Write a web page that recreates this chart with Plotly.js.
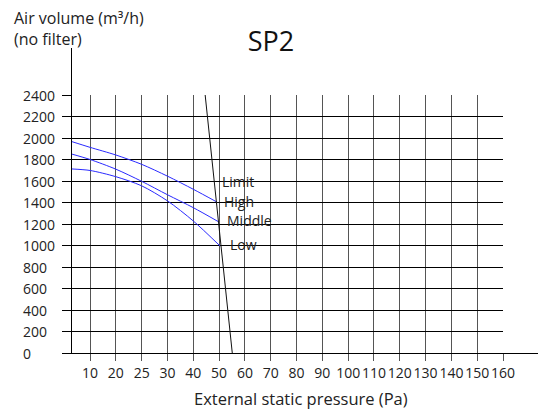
<!DOCTYPE html>
<html>
<head>
<meta charset="utf-8">
<script src="https://cdn.plot.ly/plotly-3.0.1.min.js"></script>
<style>html,body{margin:0;padding:0;background:#fff;}#chart{width:538px;height:414px;}</style>
</head>
<body>
<div id="chart"></div>
<script>
// Pressure tick labels (evenly spaced on the chart, positions 1..17)
const xTickLabels = ['10','20','25','30','40','50','60','70','80','90','100','110','120','130','140','150','160'];
const yTickVals = [0,200,400,600,800,1000,1200,1400,1600,1800,2000,2200,2400];
const yTickLabels = ['0','200','400','600','800','1000','1200','1400','1600','1800','2000','2200','2400'];

// Curves: x in tick-position units, y = air volume (m³/h)
const highX = [0.30, 1.00, 2.00, 3.00, 4.00, 5.00, 5.91];
const highY = [1966, 1913, 1842, 1755, 1645, 1523, 1405];
const middleX = [0.30, 1.00, 2.00, 3.00, 4.00, 5.00, 5.97];
const middleY = [1850, 1800, 1710, 1597, 1472, 1352, 1222];
const lowX = [0.30, 1.00, 2.00, 3.00, 4.00, 5.00, 6.04];
const lowY = [1712, 1698, 1640, 1555, 1415, 1228, 995];
const limitX = [5.46, 6.51];
const limitY = [2400, 0];

// Curve labels
const labelNames = ['Limit', 'High', 'Middle', 'Low'];
const labelX = [6.04, 6.11, 6.23, 6.35];
const labelY = [1591, 1414, 1237, 1005];

const FONT = 'Open Sans, Noto Sans, DejaVu Sans, sans-serif';
const BLUE = '#2a2aff';

const xTickVals = xTickLabels.map((_, i) => i + 1);

const traces = [
  {x: highX, y: highY, mode: 'lines', line: {color: BLUE, width: 1, shape: 'spline', smoothing: 0.8}, hoverinfo: 'skip', name: 'High'},
  {x: middleX, y: middleY, mode: 'lines', line: {color: BLUE, width: 1, shape: 'spline', smoothing: 0.8}, hoverinfo: 'skip', name: 'Middle'},
  {x: lowX, y: lowY, mode: 'lines', line: {color: BLUE, width: 1, shape: 'spline', smoothing: 0.8}, hoverinfo: 'skip', name: 'Low'},
  {x: limitX, y: limitY, mode: 'lines', line: {color: '#111', width: 1}, hoverinfo: 'skip', name: 'Limit'},
  {x: [], y: [], xaxis: 'x2', yaxis: 'y2', mode: 'lines', hoverinfo: 'skip', showlegend: false}
];

const annotations = [];
yTickVals.forEach((v, i) => {
  annotations.push({xref: 'paper', yref: 'y', x: (21 - 72) / 466, y: v, xanchor: 'left', yanchor: 'middle',
    text: yTickLabels[i], showarrow: false, font: {family: FONT, size: 14, color: '#222'}});
});
labelNames.forEach((t, i) => {
  annotations.push({xref: 'x', yref: 'y', x: labelX[i], y: labelY[i], xanchor: 'left', yanchor: 'middle',
    text: t, showarrow: false, font: {family: FONT, size: 14, color: '#222'}});
});
// y-axis title (top-left)
annotations.push({xref: 'paper', yref: 'paper', x: (12 - 72) / 466, y: (353 - 5) / 305, xanchor: 'left', yanchor: 'top', align: 'left',
  text: 'Air volume (m³/h)<br>(no filter)', showarrow: false, font: {family: FONT, size: 16, color: '#222'}});
// x-axis title
annotations.push({xref: 'paper', yref: 'paper', x: (301 - 72) / 466, y: (353 - 398) / 305, xanchor: 'center', yanchor: 'middle',
  text: 'External static pressure (Pa)', showarrow: false, font: {family: FONT, size: 16.5, color: '#222'}});
// cut-off repeated label at the very bottom
annotations.push({xref: 'paper', yref: 'paper', x: (18 - 72) / 466, y: (353 - 409) / 305, xanchor: 'left', yanchor: 'top',
  text: 'Air volume (m³/h)', showarrow: false, font: {family: FONT, size: 16, color: '#222'}});

const layout = {
  width: 538, height: 414,
  margin: {l: 72, r: 0, t: 48, b: 61, pad: 0},
  paper_bgcolor: '#fff', plot_bgcolor: 'rgba(0,0,0,0)',
  showlegend: false,
  font: {family: FONT, size: 14, color: '#222'},
  title: {text: 'SP2', font: {family: FONT, size: 27, color: '#111'}, x: 271 / 538, xanchor: 'center', xref: 'container', y: 1 - 42 / 414, yanchor: 'middle', yref: 'container'},
  xaxis: {
    domain: [0, 431 / 466], range: [0.3, 17], tickmode: 'array', tickvals: xTickVals, ticktext: xTickLabels,
    tickangle: 0, showgrid: true, gridcolor: '#555', gridwidth: 1, zeroline: false, showline: false,
    ticks: 'outside', ticklen: 7, tickcolor: '#555', tickwidth: 1,
    tickfont: {family: FONT, size: 14, color: '#222'}, anchor: 'y', fixedrange: true
  },
  yaxis: {
    domain: [0, 258 / 305], range: [0, 2400], tickmode: 'array', tickvals: yTickVals,
    showticklabels: false, showgrid: true, gridcolor: '#000', gridwidth: 1, zeroline: false, showline: false,
    ticks: 'outside', ticklen: 9, tickcolor: '#000', tickwidth: 1, anchor: 'x', fixedrange: true
  },
  xaxis2: {domain: [0, 1], range: [0, 1], anchor: 'y2', showline: true, linecolor: '#000', linewidth: 1,
    showgrid: false, zeroline: false, showticklabels: false, ticks: '', fixedrange: true},
  yaxis2: {domain: [0, 1], range: [0, 1], anchor: 'x2', showline: true, linecolor: '#000', linewidth: 1,
    showgrid: false, zeroline: false, showticklabels: false, ticks: '', fixedrange: true},
  annotations: annotations
};

Plotly.newPlot('chart', traces, layout, {displayModeBar: false, staticPlot: true});
</script>
</body>
</html>
